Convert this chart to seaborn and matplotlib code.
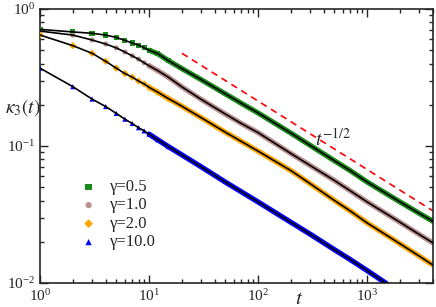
import numpy as np
import pandas as pd
import matplotlib
matplotlib.use("Agg")
import matplotlib.pyplot as plt
import seaborn as sns

# tempos
t = [1, 2, 3, 4, 5, 6, 7, 8, 9, 10, 12, 15, 20, 30, 50, 70, 100, 200, 300, 500, 700, 1000, 2000, 3000, 4000]

# kappa_3(t) para cada gamma
k_05 = [0.71, 0.68, 0.665, 0.645, 0.62, 0.59, 0.565, 0.545, 0.522, 0.50, 0.472, 0.42, 0.367, 0.305,
        0.24, 0.205, 0.174, 0.124, 0.101, 0.078, 0.066, 0.0545, 0.039, 0.0322, 0.0282]
k_10 = [0.69, 0.645, 0.594, 0.555, 0.52, 0.485, 0.455, 0.43, 0.405, 0.385, 0.355, 0.318, 0.27, 0.219,
        0.171, 0.146, 0.125, 0.088, 0.072, 0.056, 0.047, 0.039, 0.0277, 0.0226, 0.0196]
k_20 = [0.646, 0.54, 0.475, 0.415, 0.37, 0.338, 0.318, 0.298, 0.284, 0.268, 0.247, 0.222, 0.195, 0.161,
        0.126, 0.108, 0.0916, 0.066, 0.053, 0.040, 0.0335, 0.0274, 0.0193, 0.0157, 0.0135]
t_100 = [1, 2, 3, 4, 5, 6, 7, 8, 9, 10, 12, 15, 20, 30, 50, 100, 200, 300, 500, 700, 1000, 1500]
k_100 = [0.37, 0.271, 0.220, 0.194, 0.173, 0.157, 0.146, 0.136, 0.129, 0.122, 0.111, 0.099, 0.086,
         0.0705, 0.0545, 0.039, 0.0277, 0.0227, 0.0175, 0.0148, 0.0123, 0.0099]

# reta guia t^(-1/2)
t_guia = [20, 4000]
k_guia = [0.475, 0.0336]

series = [
    ("γ=0.5", t, k_05, "#1a8c1a", "s"),
    ("γ=1.0", t, k_10, "#bc8f8f", "o"),
    ("γ=2.0", t, k_20, "#ffa500", "D"),
    ("γ=10.0", t_100, k_100, "#0000ff", "^"),
]

sns.set_style("ticks")
plt.rcParams["font.family"] = ["Liberation Serif", "DejaVu Serif"]
plt.rcParams["mathtext.fontset"] = "stix"

fig = plt.figure(figsize=(4.36, 3.07), dpi=100)
ax = fig.add_axes([40 / 436, 1 - 283 / 307, 393 / 436, 274 / 307])
ax.set_xscale("log")
ax.set_yscale("log")

for nome, tt, kk, cor, mk in series:
    df = pd.DataFrame({"t": tt, "k": kk})
    denso = df[df["t"] >= 10]
    # faixa de marcadores densos
    sns.lineplot(data=denso, x="t", y="k", ax=ax, color=cor, lw=3.8, legend=False)
    sns.lineplot(data=df, x="t", y="k", ax=ax, color="black", lw=1.2, legend=False, zorder=4)
    poucos = df[df["t"] <= 15]
    sns.scatterplot(data=poucos, x="t", y="k", ax=ax, color=cor, marker=mk, s=14,
                    edgecolor="none", label=nome, zorder=3)

ax.plot(t_guia, k_guia, color="red", ls=(0, (4, 3)), lw=1.2)
ax.text(330, 0.10, r"$t^{-1/2}$", fontsize=14)

ax.set_xlim(1, 4000)
ax.set_ylim(0.01, 1)
ax.set_xlabel("")
ax.set_ylabel("")
ax.tick_params(which="both", direction="in", top=True, right=True, labelsize=11, width=1)
ax.tick_params(which="major", length=6)
ax.tick_params(which="minor", length=3)
for s in ax.spines.values():
    s.set_linewidth(1.2)

fig.text(5 / 436, 1 - 108 / 307, r"$\kappa_3(t)$", fontsize=14, va="center", ha="left")
fig.text(299 / 436, 1 - 299 / 307, r"$t$", fontsize=15, va="center", ha="center")

ax.legend(loc="upper left", bbox_to_anchor=(0.06, 0.41), frameon=False, fontsize=12,
          handletextpad=0.3, labelspacing=0.15, markerscale=1.2, borderpad=0)

fig.savefig("out.png", dpi=100)
